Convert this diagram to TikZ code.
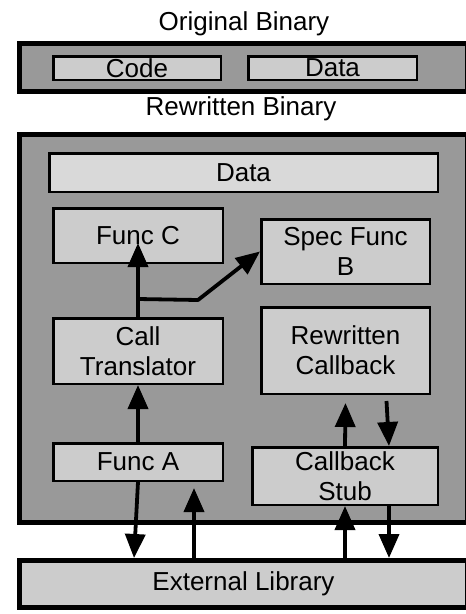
\documentclass[tikz,border=0pt]{standalone}
\usepackage{fontspec}
\setmainfont{Liberation Sans}
\usetikzlibrary{arrows.meta,calc}
\definecolor{outergray}{gray}{0.6}
\definecolor{boxgray}{gray}{0.8}
\definecolor{datagray}{gray}{0.85}
\begin{document}
\begin{tikzpicture}[x=1pt,y=-1pt,
  every node/.style={font=\fontsize{26}{30}\selectfont},
  outerbox/.style={draw=black,line width=5pt,fill=outergray,inner sep=0pt},
  extbox/.style={draw=black,line width=5pt,fill=boxgray,inner sep=0pt},
  box/.style={draw=black,line width=2.5pt,fill=boxgray,align=center,inner sep=0pt},
  arr/.style={line width=3.8pt,-{Triangle[width=20pt,length=24pt]}}]
\useasboundingbox (0,0) rectangle (466,614);
\clip (0,0) rectangle (466,614);

% titles
\node[anchor=base] (torig) at (244,30) {Original Binary};
\node[anchor=base] (trew) at (241,115) {Rewritten Binary};

% outer boxes
\node[outerbox,minimum width=448pt,minimum height=48pt] (orig) at (243.5,67.5) {};
\node[outerbox,minimum width=448pt,minimum height=388pt] (rew) at (243.5,328.5) {};
\node[extbox,minimum width=448pt,minimum height=47pt] (ext) at (243.5,584) {External Library};

% inner boxes
\node[box,minimum width=167.5pt,minimum height=23.5pt] (code) at (137,68) {Code};
\node[box,minimum width=168.5pt,minimum height=23.5pt] (data1) at (332.5,68) {Data};
\node[box,fill=datagray,minimum width=388.5pt,minimum height=38.5pt] (data2) at (243.5,172.5) {Data};
\node[box,minimum width=169.5pt,minimum height=54.5pt] (funcc) at (138,235.5) {Func C};
\node[box,minimum width=168.5pt,minimum height=64.5pt] (specb) at (345.5,251.5) {Spec Func\\B};
\node[box,minimum width=169.5pt,minimum height=65.5pt] (callt) at (138,351) {Call\\Translator};
\node[box,minimum width=168.5pt,minimum height=86.5pt] (rewcb) at (345.5,350.5) {Rewritten\\Callback};
\node[box,minimum width=169.5pt,minimum height=37.5pt] (funca) at (138,462) {Func A};
\node[box,minimum width=185.5pt,minimum height=57.5pt] (stub) at (345,476) {Callback\\Stub};

% connectors
\coordinate (br) at ($(callt.north)+(0,-18)$);
\coordinate (bend) at (198,300);
\draw[arr] (callt.north) -- ($(funcc.south)+(0,-21)$);
\draw[arr,line join=round] (br) -- (bend) -- (specb.west);
\draw[arr] (funca.north) -- (callt.south);
\draw[arr] (stub.north) -- ($(rewcb.south)+(0,8)$);
\draw[arr] ($(rewcb.south)+(41,6)$) -- ($(stub.north)+(44,0)$);
\draw[arr] (funca.south) -- ($(ext.north)+(-109.5,0)$);
\draw[arr] ($(ext.north)+(-49.5,0)$) -- ($(funca.south)+(56,6)$);
\draw[arr] ($(ext.north)+(101.5,0)$) -- (stub.south);
\draw[arr] ($(stub.south)+(44,0)$) -- ($(ext.north)+(145.5,0)$);
\end{tikzpicture}
\end{document}
